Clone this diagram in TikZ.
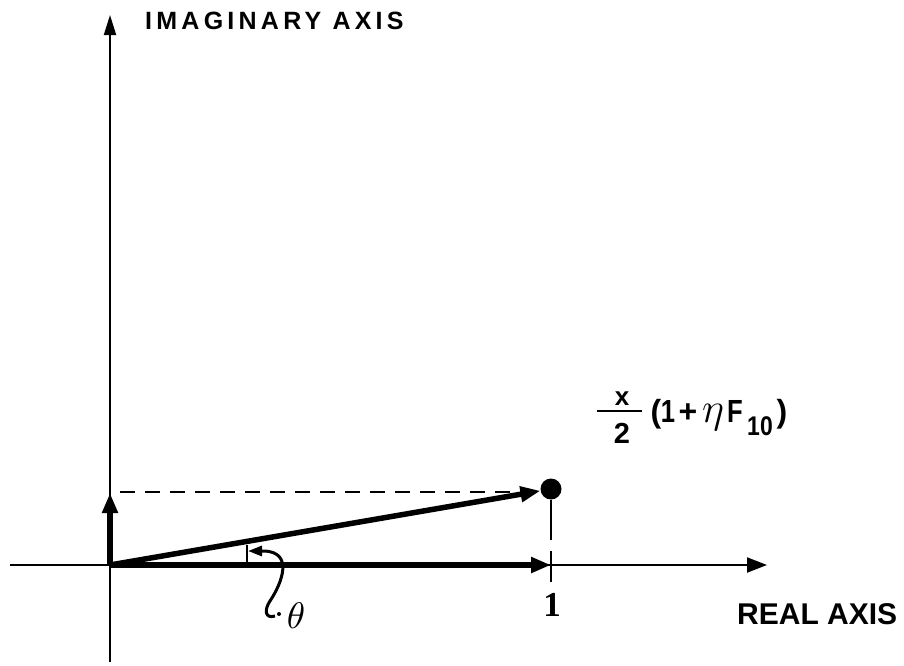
\documentclass[tikz,border=0pt]{standalone}
\usepackage{fontspec}
\newfontfamily\labi[LetterSpace=17]{Liberation Sans}
\newfontfamily\labf{Liberation Sans}
\newfontfamily\labs{Liberation Serif}
\usetikzlibrary{arrows.meta}
\begin{document}
\begin{tikzpicture}[x=1pt,y=-1pt,
  axis/.style={line width=2pt},
  vec/.style={line width=5.5pt,-{Triangle[length=20pt,width=15pt]}},
  dash1/.style={line width=2.5pt,dash pattern=on 15pt off 10pt},
  dash2/.style={line width=2.5pt,dash pattern=on 40pt off 11pt},
  ftxt/.style={inner sep=0pt,anchor=base,font=\labf\bfseries\fontsize{32}{38}\selectfont}]
\useasboundingbox (0,0) rectangle (904,665);
% axes
\coordinate (O) at (110,565);
\coordinate (T) at (110,15);
\coordinate (B) at (110,662);
\coordinate (L) at (10,565);
\coordinate (R) at (767,565);
\coordinate (U) at (551,565);
\coordinate (V) at (110,493);
\coordinate (H1) at (120,492);
\coordinate (H2) at (538,492);
\coordinate (D) at (551,582);
\node[circle,fill,inner sep=0pt,minimum size=21pt] (P) at (551,489) {};
\draw[axis,-{Triangle[length=20pt,width=12pt]}] (B) -- (T);
\draw[axis,-{Triangle[length=20pt,width=15pt]}] (L) -- (R);
\draw[dash1] (H1) -- (H2);
\draw[dash2] (P.south) -- (D);
\draw[vec] (O) -- (U);
\draw[vec] (O) -- (V);
\draw[vec] (O) -- (P);
% angle
\coordinate (K1) at (247,545);
\coordinate (K2) at (247,565);
\draw[line width=2.5pt] (K1) -- (K2);
\coordinate (A1) at (275,616);
\coordinate (A2) at (248,551);
\draw[line width=3pt,-{Triangle[length=14pt,width=10pt]}]
  (A1) .. controls (265,619) and (264,610) .. (270,601)
  .. controls (282,583) and (294,552) .. (264,551) -- (A2);
\fill (279,614) circle (2pt);
\node[inner sep=0pt] (th) at (296,616) {\scalebox{3.7}{$\theta$}};
% labels
\node[inner sep=0pt,anchor=west,font=\labi\bfseries\fontsize{25}{30}\selectfont] (im) at (145,21) {IMAGINARY AXIS};
\node[inner sep=0pt,anchor=west,font=\labf\bfseries\fontsize{30}{34}\selectfont] (re) at (737,614) {REAL AXIS};
\node[inner sep=0pt,font=\labs\bfseries\fontsize{35}{40}\selectfont] (one) at (552,605) {1};
% formula
\coordinate (F1) at (597,411);
\coordinate (F2) at (642,411);
\draw[line width=2.5pt] (F1) -- (F2);
\node[ftxt,font=\labf\bfseries\fontsize{26}{30}\selectfont] (fx) at (622,405) {x};
\node[ftxt,font=\labf\bfseries\fontsize{29}{34}\selectfont] (f2) at (622,443) {2};
\node[ftxt] (fp1) at (656,422) {(};
\node[ftxt] (f1) at (668,422) {\scalebox{0.8}[1]{1}};
\node[ftxt] (fplus) at (688,422) {+};
\node[ftxt] (feta) at (713,422) {\scalebox{1.7}{$\eta$}};
\node[ftxt] (fF) at (735,422) {\scalebox{0.8}[1]{F}};
\node[ftxt,font=\labf\bfseries\fontsize{27}{32}\selectfont] (f10) at (760,435) {\scalebox{0.85}[1]{10}};
\node[ftxt] (fp2) at (782,422) {)};
\end{tikzpicture}
\end{document}
